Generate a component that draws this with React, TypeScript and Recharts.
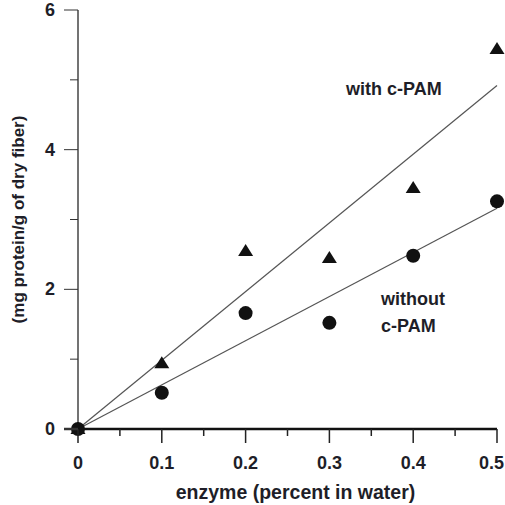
import React from 'react'
import { ComposedChart, Line, Scatter, XAxis, YAxis } from 'recharts'

const xTicks = [0, 0.05, 0.1, 0.15, 0.2, 0.25, 0.3, 0.35, 0.4, 0.45, 0.5]
const yTicks = [0, 1, 2, 3, 4, 5, 6]

const withPam = [
  { x: 0, y: 0 },
  { x: 0.1, y: 0.94 },
  { x: 0.2, y: 2.55 },
  { x: 0.3, y: 2.45 },
  { x: 0.4, y: 3.45 },
  { x: 0.5, y: 5.44 },
]
const withoutPam = [
  { x: 0, y: 0 },
  { x: 0.1, y: 0.52 },
  { x: 0.2, y: 1.66 },
  { x: 0.3, y: 1.52 },
  { x: 0.4, y: 2.48 },
  { x: 0.5, y: 3.26 },
]
const fitWith = [
  { x: 0, y: 0 },
  { x: 0.5, y: 4.92 },
]
const fitWithout = [
  { x: 0, y: 0 },
  { x: 0.5, y: 3.16 },
]

const font = '"Liberation Sans", Arial, sans-serif'
const ink = '#1e1e28'

const XTick = (props: any) => {
  const { x, y, payload } = props
  const v = Math.round(payload.value * 100)
  const major = v % 10 === 0
  // last label would run off the right edge, so pin it to the edge
  const last = v === 50
  return (
    <g>
      <line x1={x} x2={x} y1={y} y2={y + (major ? 14 : 7)} stroke="#222" strokeWidth={1.5} />
      {major && (
        <text
          x={last ? 504 : x}
          y={y + 40}
          textAnchor={last ? 'end' : 'middle'}
          fontFamily={font}
          fontWeight="bold"
          fontSize={18}
          fill={ink}
        >
          {v === 0 ? '0' : String(payload.value)}
        </text>
      )}
    </g>
  )
}

const YTick = (props: any) => {
  const { x, y, payload } = props
  const major = payload.value % 2 === 0
  return (
    <g>
      <line x1={x - (major ? 14 : 8)} x2={x} y1={y} y2={y} stroke="#333" strokeWidth={payload.value === 0 ? 2.5 : 1} />
      {major && (
        <text x={x - 28} y={y + 6} textAnchor="middle" fontFamily={font} fontWeight="bold" fontSize={18} fill={ink}>
          {payload.value}
        </text>
      )}
    </g>
  )
}

const Tri = (props: any) => {
  const { cx, cy } = props
  return <polygon points={`${cx - 7.5},${cy + 5} ${cx + 7.5},${cy + 5} ${cx},${cy - 7}`} fill="#111" />
}
const Dot = (props: any) => <circle cx={props.cx} cy={props.cy} r={7} fill="#111" />

export default function App() {
  return (
    <div style={{ position: 'absolute', left: 0, top: 0, background: '#fff' }}>
      <ComposedChart width={505} height={505} margin={{ top: 10, right: 8, bottom: 0, left: 0 }}>
        <XAxis
          type="number"
          dataKey="x"
          domain={[0, 0.5]}
          ticks={xTicks}
          tick={<XTick />}
          tickLine={false}
          tickSize={0}
          tickMargin={0}
          height={76}
          axisLine={{ stroke: '#111', strokeWidth: 2.5 }}
          interval={0}
          label={{ value: 'enzyme (percent in water)', position: 'insideBottom', offset: 6, dx: 8, fontFamily: font, fontWeight: 'bold', fontSize: 19.5, fill: ink }}
        />
        <YAxis
          type="number"
          dataKey="y"
          domain={[0, 6]}
          ticks={yTicks}
          tick={<YTick />}
          tickLine={false}
          tickSize={0}
          tickMargin={0}
          width={78}
          axisLine={{ stroke: '#444', strokeWidth: 1.5 }}
          interval={0}
          label={{ value: '(mg protein/g of dry fiber)', angle: -90, position: 'insideLeft', offset: 18, fontFamily: font, fontWeight: 'bold', fontSize: 17, fill: ink, style: { textAnchor: 'middle' } }}
        />
        <Line data={fitWith} dataKey="y" type="linear" stroke="#555" strokeWidth={1.2} dot={false} isAnimationActive={false} />
        <Line data={fitWithout} dataKey="y" type="linear" stroke="#555" strokeWidth={1.2} dot={false} isAnimationActive={false} />
        <Scatter data={withPam} shape={<Tri />} isAnimationActive={false} />
        <Scatter data={withoutPam} shape={<Dot />} isAnimationActive={false} />
        <text x={346} y={95} fontFamily={font} fontWeight="bold" fontSize={18} fill={ink}>with c-PAM</text>
        <text x={381} y={305} fontFamily={font} fontWeight="bold" fontSize={18} fill={ink}>without</text>
        <text x={381} y={332} fontFamily={font} fontWeight="bold" fontSize={18} fill={ink}>c-PAM</text>
      </ComposedChart>
    </div>
  )
}
